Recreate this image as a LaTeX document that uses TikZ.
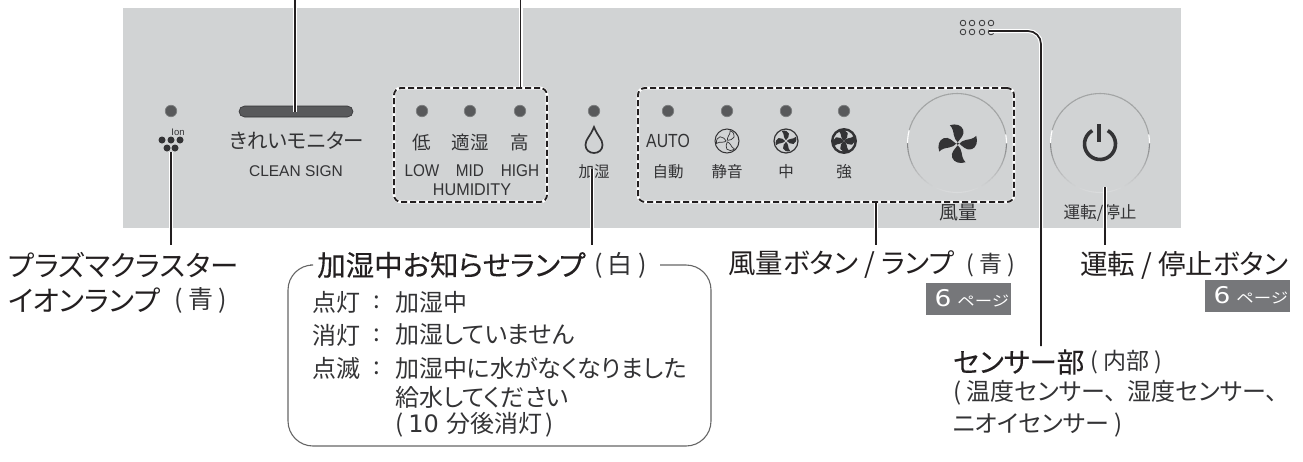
\documentclass[tikz,border=0pt]{standalone}
\usepackage{fontspec}
\usepackage{graphicx}
\setmainfont[RawFeature=+palt]{Noto Sans CJK JP}
\newfontfamily\lat{Liberation Sans}
\newfontfamily\jpb[FakeBold=0.25,RawFeature=+palt]{Noto Sans CJK JP}
\newfontfamily\djf{DejaVu Sans}
\newcommand{\fs}[1]{\fontsize{#1}{#1}\selectfont}
\definecolor{panel}{HTML}{D1D3D4}
\definecolor{ledc}{HTML}{58595B}
\definecolor{ink}{HTML}{231F20}
\definecolor{soft}{HTML}{333335}
\definecolor{badge}{HTML}{76777A}
\tikzset{
 led/.style={circle,fill=ledc,draw=ledc!70!panel,line width=.7,minimum size=11.5,inner sep=0},
 sdot/.style={circle,draw=soft,line width=.8,minimum size=5.6,inner sep=0},
 ptxt/.style={inner sep=0,text=soft,font=\fs{15.5}},
 ltxt/.style={inner sep=0,text=soft,font=\lat\fs{15.5}},
 big/.style={inner sep=0,anchor=west,text=ink,font=\fs{28.5}},
 bigb/.style={inner sep=0,anchor=west,text=ink,font=\jpb\fs{28.5}},
 thintxt/.style={inner sep=0,anchor=west,text=soft,font=\fs{24}},
 leader/.style={draw=ink,line width=1.7,preaction={draw=white,line width=4}},
 dashbox/.style={rectangle,rounded corners=7,inner sep=0,draw=ink,line width=1.9,dash pattern=on 6 off 3,
   preaction={draw=white,solid,line width=2.8}},
 badgebox/.style={fill=badge,inner sep=0,minimum width=85,minimum height=32},
}
\newcommand{\bladepath}{(0,-.08) .. controls (-.12,-.25) and (-.38,-.45) .. (-.28,-.72) .. controls (-.2,-.95) and (.1,-1.05) .. (.4,-.95) .. controls (.25,-.8) and (.22,-.6) .. (.2,-.45) .. controls (.17,-.3) and (.1,-.15) .. (0,-.08)}
\newcommand{\fanblades}[4]{% x y scale style
 \foreach \rr in {0,90,180,270}{
  \path[shift={(#1,#2)},rotate=\rr,scale=#3,yscale=-1,#4] \bladepath;}}
\newcommand{\btnring}[2]{%
 \foreach \aa in {0,5,...,355}{
  \pgfmathsetmacro{\bb}{\aa+5.5}
  \pgfmathsetmacro{\dd}{abs(\aa+2.5-90)/90}
  \pgfmathsetmacro{\pc}{\aa<180 ? 95*\dd*\dd : ((\aa<192 || \aa>348) ? 0 : 100)}
  \ifdim\aa pt<180pt
   \draw[draw=ledc!\pc!panel!80!white,line width=1.1] (#1,#2) ++(\aa:49.5) arc[start angle=\aa,end angle=\bb,radius=49.5];
  \else
   \draw[draw=black!22!panel!\pc!white,line width=1.1] (#1,#2) ++(\aa:49.5) arc[start angle=\aa,end angle=\bb,radius=49.5];
  \fi}}
\begin{document}
\begin{tikzpicture}[x=1pt,y=-1pt,line cap=butt]
\useasboundingbox (0,0) rectangle (1303,461);
\fill[panel] (123,8) rectangle (1181,228);

% ion lamp
\node[led] (ledion) at (171,111) {};
\foreach \n/\x/\y in {a/162/140,b/171/140,c/180/140,d/167/148,e/175/148}
  \node[circle,fill=soft,minimum size=7,inner sep=0] (ion\n) at (\x,\y) {};
\node[inner sep=0,text=soft,font=\lat\fs{9.5}] (iontxt) at (178,132) {Ion};

% clean sign
\node[rectangle,rounded corners=5.5,fill=ledc,draw=soft,line width=.6,minimum width=114,minimum height=11,inner sep=0] (bar) at (296,111.5) {};
\node[inner sep=0,text=soft,font=\fs{20.5}] (cleanjp) at (297,141) {きれいモニター};
\node[ltxt,font=\lat\fs{15.5}] (cleanen) at (296,171) {CLEAN SIGN};

% humidity
\node[dashbox,minimum width=153,minimum height=114] (humbox) at (470.5,145) {};
\foreach \n/\x/\jt/\en in {l/422/低/LOW,m/470/適湿/MID,h/520/高/HIGH}{
  \node[led] (led\n) at (\x,111) {};
  \node[ptxt,font=\fs{18.5}] (hj\n) at (\x,142) {\jt};
  \node[ltxt,font=\lat\fs{17}] (he\n) at (\x,171) {\scalebox{.9}[1]{\en}};
}
\node[ltxt,font=\lat\fs{17}] (humtxt) at (472,190) {\scalebox{.95}[1]{HUMIDITY}};

% humidify lamp
\node[led] (ledk) at (594,111) {};
\path[draw=soft,line width=1.7] (594,127) .. controls (590,137) and (585.5,139) .. (585.5,145)
  .. controls (585.5,150) and (589.5,153) .. (594,153) .. controls (598.5,153) and (602.5,150) .. (602.5,145)
  .. controls (602.5,139) and (598,137) .. (594,127) -- cycle;
\node[ptxt] (kasitu) at (594,172) {加湿};

% air-flow group
\node[dashbox,minimum width=376,minimum height=114] (fanbox) at (826,145) {};
\node[led] (led1) at (668,111) {};
\node[led] (led2) at (727,111) {};
\node[led] (led3) at (786,111) {};
\node[led] (led4) at (844,111) {};
\node[ltxt,font=\lat\fs{19}] (autotxt) at (668,141) {\scalebox{.83}[1]{AUTO}};
\node[ptxt] (t1) at (668,172) {自動};
\node[ptxt] (t2) at (727,172) {静音};
\node[ptxt] (t3) at (786,172) {中};
\node[ptxt] (t4) at (844,172) {強};
% quiet icon
\node[circle,draw=soft,line width=1,minimum size=24,inner sep=0] (ic2) at (727,141) {};
\foreach \rr in {20,140,260}
  \path[shift={(727,141)},rotate=\rr,scale=10.5,yscale=-1,draw=soft,line width=.7] \bladepath;
% mid icon
\node[circle,draw=soft,line width=1.2,minimum size=24,inner sep=0] (ic3) at (786,141) {};
\fanblades{786}{141}{10.5}{fill=soft}
% high icon
\node[circle,draw=soft,fill=panel,line width=2.4,minimum size=23.5,inner sep=0] (ic4) at (844,141) {};
\fanblades{844}{141}{10.5}{fill=soft,draw=soft,line width=1.5}

% fan button
\btnring{957}{143}
\node[circle,minimum size=99,inner sep=0] (fanbtn) at (957,143) {};
\fanblades{957.7}{143.7}{19.5}{fill=soft}
\node[circle,fill=soft,minimum size=2.5,inner sep=0] (fanhub) at (957.7,143.7) {};
\node[ptxt,font=\fs{19}] (fantxt) at (958,213) {風量};

% power button
\btnring{1100}{143}
\node[circle,minimum size=99,inner sep=0] (powbtn) at (1100,143) {};
\draw[draw=soft,line width=3.6] (1100,144) ++(-60:15.5) arc[start angle=-60,end angle=240,radius=15.5];
\draw[draw=soft,line width=3.8] (1099,124) -- (1099,142);
\node[ptxt,font=\fs{16.6}] (powtxt) at (1100,213) {運転/停止};

% sensor holes
\foreach \n/\x in {a/963,b/972,c/982,d/991}{
  \node[sdot] (su\n) at (\x,23) {};
  \node[sdot] (sl\n) at (\x,32) {};
}

% labels
\node[big] (ionlab1) at (8,265) {プラズマクラスター};
\node[big] (ionlab2) at (8,300) {イオンランプ};
\node[inner sep=0,anchor=west,text=soft,font=\fs{25}] (ionlab3) at (174,300) {( 青 )};

\draw[draw=black!60,line width=1.1,rounded corners=25] (310,265) -- (288,265) -- (288,446) -- (711,446) -- (711,265) -- (660,265);
\node[bigb] (title) at (317,265) {加湿中お知らせランプ};
\node[inner sep=0,anchor=west,text=soft,font=\fs{25}] (titlec) at (594,265) {(\hspace{5pt}白\hspace{6pt})};
\node[thintxt] (k1) at (312,302) {点灯};
\node[thintxt] (c1) at (373,302) {:};
\node[thintxt] (v1) at (395,302) {加湿中};
\node[thintxt] (k2) at (312,335) {消灯};
\node[thintxt] (c2) at (373,335) {:};
\node[thintxt] (v2) at (395,335) {加湿していません};
\node[thintxt] (k3) at (312,368) {点滅};
\node[thintxt] (c3) at (373,368) {:};
\node[thintxt] (v3) at (395,368) {加湿中に水がなくなりました};
\node[thintxt] (v4) at (395,397) {給水してください};
\node[thintxt] (v5) at (395,425) {(\hspace{5pt}{\djf 10}\hspace{8pt}分後消灯\hspace{3pt})};

\node[big,font=\fs{27.5}] (fanlab) at (728,265) {風量ボタン / ランプ};
\node[inner sep=0,anchor=west,text=soft,font=\fs{23}] (fanlabc) at (966,265) {( 青 )};
\node[badgebox] (b1) at (968.5,299) {};
\node[inner sep=0,text=white,font=\djf\fs{23}] (b1n) at (943,298) {\scalebox{1.15}[1]{6}};
\node[inner sep=0,anchor=west,text=white,font=\fs{14.5}] (b1t) at (957,301) {\scalebox{1.2}[1]{ページ}};

\node[big,font=\fs{27.5}] (powlab) at (1080,265) {運転 / 停止ボタン};
\node[badgebox] (b2) at (1247.5,296) {};
\node[inner sep=0,text=white,font=\djf\fs{23}] (b2n) at (1222,295) {\scalebox{1.15}[1]{6}};
\node[inner sep=0,anchor=west,text=white,font=\fs{14.5}] (b2t) at (1236,298) {\scalebox{1.2}[1]{ページ}};

\node[bigb,font=\jpb\fs{27.5}] (senlab) at (953,362) {センサー部};
\node[inner sep=0,anchor=west,text=soft,font=\fs{23}] (senlabc) at (1090,362) {( 内部 )};
\node[thintxt] (sen2) at (953,393) {( 温度センサー、\hspace{11pt}湿度センサー、};
\node[thintxt] (sen3) at (953,425) {ニオイセンサー )};

% connector ends
\coordinate (topa) at (295,0);
\coordinate (topb) at (520.5,0);
\coordinate (iona) at (171,152);
\coordinate (ionb) at (171,245);
\coordinate (kaa) at (592,169);
\coordinate (kab) at (592,245);
\coordinate (fana) at (876,245);
\coordinate (powa) at (1105,187);
\coordinate (powb) at (1105,245);
\coordinate (sena) at (989,31);
\coordinate (senb) at (1041,346);

\draw[leader] (topa) -- (topa |- bar.center);
\draw[leader] (topb) -- (topb |- humbox.north);
\draw[leader] (iona) -- (ionb);
\draw[leader] (kaa) -- (kab);
\draw[leader] (fana |- fanbox.south) -- (fana);
\draw[leader] (powa) -- (powb);
\draw[leader,rounded corners=13] (sena) -- (senb |- sena) -- (senb);
\end{tikzpicture}
\end{document}
